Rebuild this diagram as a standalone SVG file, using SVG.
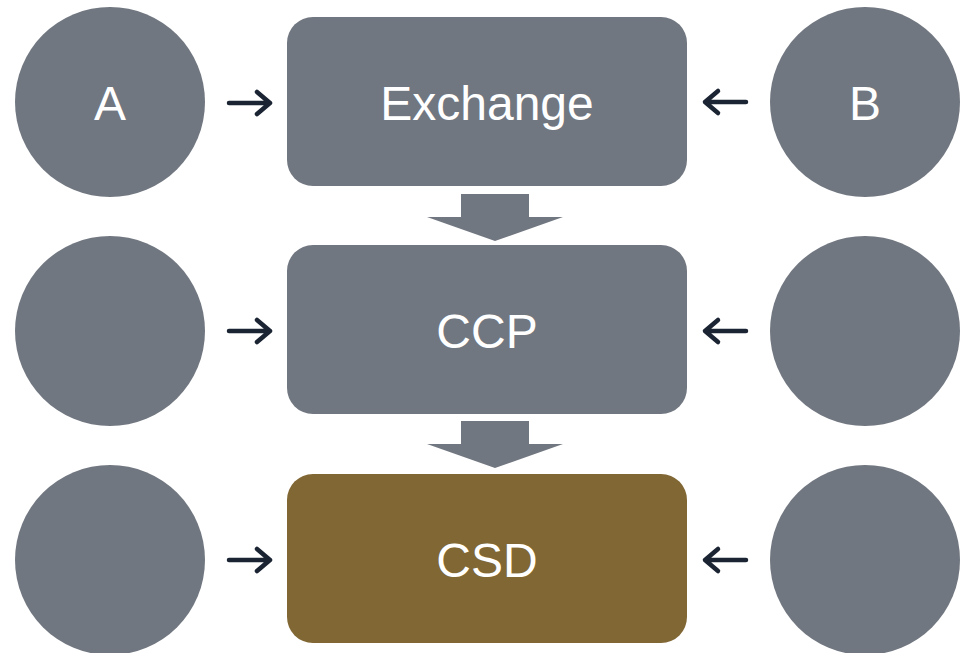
<svg xmlns="http://www.w3.org/2000/svg" width="965" height="653" viewBox="0 0 965 653">
<style>
.c{fill:#717780}
.b{fill:#717780}
.g{fill:#806734}
.t{font-family:"Liberation Sans",Arial,sans-serif;font-size:48px;fill:#ffffff;text-anchor:middle}
.a{fill:none;stroke:#1b2433;stroke-width:4.5;stroke-linecap:round;stroke-linejoin:round}
.blk{fill:#717780}
</style>
<rect width="965" height="653" fill="#ffffff"/>
<g id="nodeA"><circle class="c" cx="110" cy="102" r="95"/><text class="t" x="110" y="120">A</text></g>
<g id="nodeB"><circle class="c" cx="865" cy="102" r="95"/><text class="t" x="865" y="120">B</text></g>
<g id="nodeL2"><circle class="c" cx="110" cy="331" r="95"/></g>
<g id="nodeR2"><circle class="c" cx="865" cy="331" r="95"/></g>
<g id="nodeL3"><circle class="c" cx="110" cy="560" r="95"/></g>
<g id="nodeR3"><circle class="c" cx="865" cy="560" r="95"/></g>
<g id="exchange"><rect class="b" x="287" y="17" width="400" height="169" rx="26"/><text class="t" x="487" y="120">Exchange</text></g>
<g id="ccp"><rect class="b" x="287" y="245" width="400" height="169" rx="26"/><text class="t" x="487" y="348">CCP</text></g>
<g id="csd"><rect class="g" x="287" y="474" width="400" height="169" rx="26"/><text class="t" x="487" y="577">CSD</text></g>
<g id="connectors">
<polygon class="blk" points="461,194 529,194 529,217 563,217 495,241 427,217 461,217"/>
<polygon class="blk" points="461,421 529,421 529,444 563,444 495,468 427,444 461,444"/>
<path class="a" d="M229,103H270M257,92L270,103L257,114"/>
<path class="a" d="M229,331H270M257,320L270,331L257,342"/>
<path class="a" d="M229,560H270M257,549L270,560L257,571"/>
<path class="a" d="M746,102H705M718,91L705,102L718,113"/>
<path class="a" d="M746,331H705M718,320L705,331L718,342"/>
<path class="a" d="M746,560H705M718,549L705,560L718,571"/>
</g>
</svg>
